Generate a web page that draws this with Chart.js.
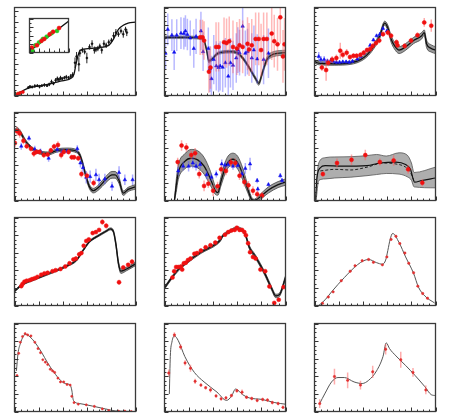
<!DOCTYPE html>
<html><head><meta charset="utf-8">
<script src="https://cdn.jsdelivr.net/npm/chart.js@4.4.1/dist/chart.umd.min.js"></script>
<style>
body{margin:0;background:#fff;width:449px;height:420px;position:relative;overflow:hidden}
canvas{position:absolute}
</style></head><body>
<script>
// ---------- Panel 1 (top-left) ----------
const p1CurveX = [0,11.4,16.8,27.4,38,47.3,49.2,50.8,52.7,54.5,62,69.9,77.9,81.9,85.9,89.9,93.9,100];
const p1CurveY = [0,8.3,10.1,12.6,16.2,20.2,24.5,35.4,46.2,51.6,53.4,54.5,57,64.3,75.1,79.8,82.3,83.4];
const p1X = [11.4,12.8,14.6,16.8,18.9,20.7,22.6,24.7,26.9,28.7,30.6,32.2,34,35.4,36.7,38,39.4,41.2,42.8,44.7,46.5,48.1,50,51.3,53.2,54,56.1,58,59.8,62,64.1,66,67.3,68.9,70.5,72.1,73.9,75.8,77.9,80.1,81.9,83.8,85.9,88,89.9,91.8,92.8];
const p1Y = [9,10.1,9.7,10.8,11.2,10.1,11.2,11.9,11.2,12.6,15.5,13.7,17.3,19.1,18.1,19.9,19.1,20.2,20.9,20.2,22,23.5,37.2,44.4,35.4,48,51.6,49.8,42.6,55.2,58.8,51.6,52.3,53.4,56,51.6,58.8,57,60.6,62.5,67.9,71.5,69.7,73.3,69.7,75.1,71.5];
const p1E = [1.5,1.5,1.5,2,1.5,2,1.5,2,1.5,2,2.5,2,2.5,2.5,2,2.5,2,2,2.5,2,2.5,3,6,5,8,4,3,3,6,3,4,4,3,3,3,4,4,3,3,3,4,4,3,3,4,3,4];
const p1RedX = [0.8,2.9,4.8,6.9], p1RedY = [1.1,2.2,2.9,4];
const p1GreenX = [0.3,2.1,4], p1GreenY = [0.4,1.4,2.2];
// inset
const insLineX = [0,100], insLineY = [4,92];
const insRedX = [6,19,30.3,37.9,51.5,60.6,75.8], insRedY = [14.4,21.2,33.9,39.8,53.4,61,72];
const insGreenX = [7.6,15.2,24.2,34.1,43.9,56.8,70.5], insGreenY = [5.9,21.2,29.7,39.8,46.6,56.8,63.6];

// ---------- Panel 2 ----------
const p2CurveX = [0,16.8,30.1,32.7,34.8,36.7,39.4,43.4,47.3,54,59.8,64.6,69.9,75.3,77.9,80.6,84.6,89.9,100];
const p2CurveY = [66.1,66.1,65.3,62.5,51.6,39,41.5,47.3,49.1,49.8,48.7,42.6,31.8,19.1,13.7,24.5,40.8,46.9,48.7];
const p2Up = [67.5,67.5,66.8,64,53.5,41,43,48.8,50.6,51.3,50.2,44.3,33.5,21,15.8,26.8,43.5,49.8,51.5];
const p2Lo = [64.7,64.7,63.8,61,49.7,37,40,45.8,47.6,48.3,47.2,40.9,30.1,17.2,11.6,22.2,38.1,44,45.9];
const p2BlueX = [0.8,2.7,6.1,8,10.1,13.6,16,17.3,18.9,21.3,24.2,26.1,30.1,31.9,36.2,37.5,38.8,40.7,42.8,44.7,46,48.1,50.3,52.7,54.5,56.6,59.3,60.6,62,64.6,66.8,68.6,72.1,73.9,76.6,81.9,85.9];
const p2BlueY = [48,75.1,68.6,49.1,68.6,70.8,70.4,73.3,69.3,65.3,53.4,67.1,73.3,49.8,53.4,30,19.1,40.8,33.6,31.8,33.6,32.1,37.2,22,37.2,34.3,42.6,51.6,48.7,78.7,48,49.8,42.6,51.6,41.5,40.8,48];
const p2BlueE = [18,18,18,20,18,18,18,18,18,20,22,20,22,22,24,26,26,28,28,28,28,28,28,30,28,28,28,26,26,22,26,26,28,28,28,28,28];
const p2RedX = [29.5,31.4,32.7,36.7,38,42.6,44.7,49.2,51.3,53.5,56.6,59.8,62,64.6,68.6,69.9,72.1,75.3,77.9,79.8,81.9,84.6,88.6,90.7,93.4,95.7,97.9,99.2];
const p2RedY = [66.1,66.1,62.5,27.1,31.8,55.2,55.2,60.6,59.6,61.7,55.2,53.4,57,55.2,58.8,52.3,57,64.3,64.3,51.6,64.3,64.3,70.4,61.7,58.1,88.8,44.4,58.1];
const p2RedE = [20,20,22,24,24,28,28,28,28,28,30,30,30,30,30,30,30,30,30,30,30,30,30,30,30,30,30,30];

// ---------- Panel 3 ----------
const p3CurveX = [0,2.1,6.1,16.8,30.1,38,43.4,48.7,54,58,60.6,63.3,66,69.9,75.3,81.9,88.6,90.7,92.6,96.5,100];
const p3CurveY = [39,37.2,36.5,36.1,37.2,40.8,46.2,55.2,67.9,82.3,76.9,64.3,57,51.6,55.2,62.5,67.9,71.5,58.8,53.4,51.6];
const p3Up = [41,39,38.3,37.8,39,42.8,48.5,57.8,70.8,84.5,80,68,61,55.5,59,66,71.5,74.5,63,57.5,55.5];
const p3Lo = [37,35.4,34.7,34.4,35.4,38.8,44,52.6,65,80,73.8,60.6,53,47.7,51.4,59,64.3,68.5,54.6,49.3,47.7];
const p3BlueX = [3.5,5.3,8,10.6,13.6,15.4,18.1,20.7,23.4,26.1,28.7,31.4,35.4,38,40.7,43.4,46,48.7,51.3,54,56.6,59.8];
const p3BlueY = [44.4,40.8,40.8,39,40.1,39,37.9,37.9,38.3,38.3,37.9,39,41.5,44.4,48,51.6,57,63.2,67.9,69.7,76.2,73.3];
const p3BlueE = [5,4,4,3,3,3,2,2,2,2,2,2,2,2,2,2,2,2,2,2,2,2];
const p3RedX = [6.1,9.6,11.4,14.6,18.1,21.3,23.4,26.6,29.3,32.2,34.8,38,40.7,43.4,46,48.1,50.8,53.5,56.6,60.6,63.3,67.8,68.6,74.5,79.8,85.1,90.7,96.5];
const p3RedY = [31.8,28.9,37.2,40.8,42.6,50.9,46.2,48.7,43.7,45.1,45.1,46.2,48.7,51.6,52.7,56.3,59.6,62.5,69.7,71.5,67.9,60.6,57,56.3,62.5,68.6,83,79.4];
const p3RedE = [4,12,4,4,4,9,4,4,3,3,3,3,3,3,3,3,3,3,3,3,3,3,3,3,3,3,5,7];

// ---------- Panel 4 ----------
const p4CurveX = [0,2.1,4.8,8.8,14.1,19.4,27.4,35.4,43.4,51.3,54,56.6,59.3,62,65.2,69.9,75.3,80.6,83.2,86.4,89.9,93.9,100];
const p4CurveY = [78.7,81.2,77.6,67.9,59.6,55.2,53.4,57,57.8,56,51.6,40.8,26.4,15.5,11.2,15.5,23.5,29.2,29.2,22.7,8.3,12.6,15.5];
const p4Up = [80.5,83,79.5,69.8,61.3,57,55.2,58.8,59.6,57.8,53.6,43,28.8,18,13.8,18.5,27,33,33,26.2,10.8,15,18];
const p4Lo = [76.9,79.4,75.7,66,57.9,53.4,51.6,55.2,56,54.2,49.6,38.6,24,13,8.6,12.5,20,25.4,25.4,19.2,5.8,10.2,13];
const p4RedX = [0.3,2.1,4.3,7.4,10.1,13.6,16,18.1,20.7,24.2,27.4,30.1,32.7,35.9,38.6,40.7,44.7,47.3,49.2,52.7,55.3,59.8,65.4];
const p4RedY = [65.3,78.7,76.2,67.9,61.7,58.8,53.4,55.2,55.2,51.6,52.3,57,61.4,63.2,51.6,55.2,55.2,49.1,49.1,48,30,28.2,19.9];
const p4RedE = [5,5,5,4,3,3,4,3,3,3,3,3,3,4,4,3,3,3,3,3,4,4,4];
const p4BlueX = [5.6,12,16.8,21.5,28.2,35.4,39.4,43.4,51.9,54.5,56.6,59.3,62.5,67.3,69.9,74.7,80.6,86.4,91.2,97.6];
const p4BlueY = [61.7,70.8,58.1,56,48,58.1,55.2,56,58.8,42.6,37.2,26.4,27.1,29.2,23.5,24.5,16.2,31.8,23.5,23.5];
const p4BlueE = [4,3,4,3,4,4,4,3,4,5,6,7,7,7,7,6,5,7,6,6];

// ---------- Panel 5 ----------
const p5CurveX = [8.2,9.6,11.4,16.8,22.1,27.4,32.7,38,42,44.1,46.5,51.3,56.6,60.6,64.6,68.6,72.1,74.7,77.9,85.9,93.9,100];
const p5CurveY = [0,15.5,31.8,44.4,48,46.2,39,24.5,11.2,9,20.9,40.8,46.9,42.6,30,13.7,1.1,0,2.9,11.9,18.1,20.9];
const p5Up = [0,22,40,53,58,56.5,49,33,16,12,26,47.5,53.8,50,37,18.5,3.5,1.5,5.5,15.5,21.5,24.5];
const p5Lo = [0,9,24,36,39,37,30,17,7,6,16,34.5,40,35.5,23.5,9.5,0,0,0.5,8.5,14.7,17.3];
const p5RedX = [10.9,14.1,18.1,22.1,25.3,28.7,32.7,36.2,40.2,43.9,46.8,50.8,54.8,58.5,62,66,69.4,73.1,76.6,80.6];
const p5RedY = [43.7,62.5,60.3,51.6,53.8,30,16.6,19.1,11.2,16.2,35.4,33.6,43.3,42.6,28.2,20.9,17.3,11.2,7.2,5.8];
const p5RedE = [5,6,5,5,6,5,6,5,6,5,5,5,5,5,5,5,5,5,4,4];
const p5BlueX = [11.4,15.4,19.9,23.4,26.1,29.5,34.8,38.8,42.8,47.3,50,52.7,56.6,60.6,64.1,66.8,70.7,76.6,77.1,85.9,95.7,97.1];
const p5BlueY = [33.6,39,39,42.6,39,40.8,29.2,26.4,30,41.5,40.1,40.8,39,39.7,30,36.5,41.5,22.7,13,18.1,28.2,22.7];
const p5BlueE = [5,5,6,6,5,5,5,4,4,5,4,4,4,4,4,6,7,3,3,2,3,3];

// ---------- Panel 6 ----------
const p6CurveX = [0.8,2.1,4.8,8.8,22.1,43.4,54,67.3,75.3,79.3,82.7,88.6,100];
const p6CurveY = [0,26.4,37.2,39.7,39,39.7,42.6,43.7,40.8,35.4,20.9,22.7,25.6];
const p6DashX = [4.8,16.8,30.1,43.4,56.6,67.3,75.3,79.3,82.7];
const p6DashY = [33.6,35.4,34.7,37.9,42.6,41.5,37.9,31.8,20.9];
const p6BandX = [1.3,3.5,8.8,16.8,30.1,43.4,51.3,59.3,69.9,76.6,80.1,82.3,100];
const p6Up = [19,42.6,48.7,49.5,49.8,51,52.3,50.5,54.2,51.6,42.6,31.8,37.9];
const p6Lo = [0,22.7,24.5,25.6,26.5,28.2,29.5,30.7,30,27,23,15.5,14.4];
const p6RedX = [6.9,18.6,30.6,42,54,65.4,77.4,89.1];
const p6RedY = [30,42.6,46.2,51.6,43.7,45.5,35.4,20.2];
const p6RedE = [3,5,6,6,4,6,5,4];

// ---------- Panel 7 ----------
const p7CurveX = [0,6.1,16.8,30.1,43.4,51.3,56.6,62,69.9,75.3,79.3,81.9,83.8,85.9,88,92.6,100];
const p7CurveY = [16.2,23.5,30,37.2,45.1,51.6,62.5,72.6,79.8,84.1,87,83.4,69.7,48,39,41.5,47.3];
const p7Up = [17.2,24.5,31,38.2,46.1,52.6,63.5,73.6,80.8,85.1,88.2,85,72,50.5,41.5,43.5,49.3];
const p7Lo = [15.2,22.5,29,36.2,44.1,50.6,61.5,71.6,78.8,83.1,85.8,81.8,67.4,45.5,36.5,39.5,45.3];
const p7RedX = [5.6,6.6,8.2,10.1,12.8,14.6,16.8,18.9,22.1,24.7,27.4,31.4,34,38,42,45.5,48.7,50.8,53.5,55.3,57.2,59.3,61.4,64.6,67.3,69.9,72.6,75.8,86.4,89.9,93.9,97.1];
const p7RedY = [22,24.5,27.1,28.2,28.9,30,31,32.5,35,36.5,37.2,39,40.1,41.5,44.4,48,52.3,53.4,58.1,59.6,67.9,73.3,75.1,82.3,83.4,85.9,94.9,90.6,26.4,43.3,46.2,49.8];
const p7RedE = [1,1,1,1,1,1,1,1,1,1,1,1,1,1,1,1,1,1,1,1,1,1,1,1,1,1,3,3,3,2,2,3];

// ---------- Panel 8 ----------
const p8CurveX = [0,6.1,11.4,16.8,30.1,43.4,46.5,47.9,54,59.3,64.1,67.3,69.9,75.3,83.2,88.6,92,95.2,100];
const p8CurveY = [19.9,31.8,40.8,47.3,60.6,70.8,75.1,78.7,84.1,87.7,85.9,78.7,66.8,55.2,35.4,19.1,10.8,12.6,31.8];
const p8Up = [21.4,33.3,42.3,48.8,62.1,72.3,76.6,80.2,85.6,89.2,87.4,80.4,68.8,57.2,37.4,21.1,12.8,14.6,33.8];
const p8Lo = [18.4,30.3,39.3,45.8,59.1,69.3,73.6,77.2,82.6,86.2,84.4,77,64.8,53.2,33.4,17.1,8.8,10.6,29.8];
const p8RedX = [6.6,8,9.6,11.4,13.6,14.6,16,17.6,19.4,21.5,24.7,26.9,30.1,34,38,42,45.5,50,52.7,55.3,58,59.8,62,64.1,66,67.3,69.1,70.7,73.1,75.3,79.3,83.2,86.7,90.7,94.4,98.4];
const p8RedY = [31.8,39,43.7,43.7,44.4,40.8,48,48.7,51.6,53.4,58.8,59.6,62.5,66.1,68.6,71.5,76.9,80.5,83.4,85.2,85.9,88.4,85.9,85.9,83.4,79.8,70.8,60.6,55.2,53.4,40.8,39,21.7,2.9,6.5,20.9];

// ---------- Panel 9 ----------
const p9CurveX = [3.5,8.8,14.1,24.7,35.4,40.7,44.7,51.3,56.1,58.8,60.6,62.5,64.6,69.9,75.3,81.9,85.9,91.2,99.2];
const p9CurveY = [0,6.5,15.5,31.8,46.2,50.9,52.3,48.7,46.9,51.6,62.5,75.1,81.9,71.5,55.2,36.5,20.9,10.8,2.9];
const p9RedX = [6.6,11.4,15.4,22.1,29.5,33.5,39.4,44.7,48.7,56.1,59.8,63.3,67.3,70.5,74.7,77.9,81.9,85.4,89.4,93.4];
const p9RedY = [2.5,9.7,15.5,28.2,39,45.1,50.9,52.3,49.1,46.2,55.2,75.1,78.7,70.4,59.6,48,37.2,22,13.7,8.3];

// ---------- Panel 10 ----------
const p10CurveX = [1.6,2.9,4.8,7.4,9.3,12.8,16.8,22.1,27.4,32.7,38,42,46,47.3,48.7,54,64.6,75.3,83.2,100];
const p10CurveY = [46.2,66.1,76.9,85.9,87.7,84.8,78.7,67.9,55.2,44.4,35.4,31.8,30,24.5,12.6,9,6.1,2.9,0.7,0];
const p10RedX = [2.1,3.5,4.8,6.6,8.8,10.9,13.6,16.8,19.4,21.5,23.4,25.5,27.4,29.5,31.4,33.2,35.9,38,40.7,43.4,46,47.3,49.2,52.7,59.3,66,72.6,77.9,85.9,91.2,96.5];
const p10RedY = [40.8,66.1,78.7,85.2,88.4,87,85.9,78.7,71.5,66.8,58.8,56,53.4,48,46.2,44.4,37.9,33.6,33.6,30.7,30,17.3,10.1,8.3,7.6,5.8,2.9,1.1,0.4,0.4,0];

// ---------- Panel 11 ----------
const p11CurveX = [4,4.8,6.1,8.2,11.4,16.8,24.7,32.7,43.4,51.3,55.3,58.8,64.6,69.9,80.6,91.2,100];
const p11CurveY = [19.9,62.5,78.7,85.9,80.5,62.5,44.4,33.6,22,12.6,17.3,25.6,19.1,15.5,13.7,10.1,8.3];
const p11RedX = [3.5,8.2,13.3,17,21.5,25.3,30.1,34,38,42.6,46.8,50.8,55.3,59.8,64.1,67.8,72.1,76.6,81.1,85.1,89.1,93.9,97.9];
const p11RedY = [43.7,87,73.3,55.2,49.1,34.3,30,27.1,24.5,17.7,14.4,15.5,18.1,23.5,22,16.2,14.8,12.6,13.7,13,10.1,9,4.7];
const p11RedE = [4,3,3,3,4,3,2,2,3,2,2,2,2,2,3,2,2,2,2,2,2,2,2];

// ---------- Panel 12 ----------
const p12CurveX = [4,8.8,14.1,19.4,24.7,32.7,39.4,44.7,51.3,56.6,59.3,62,67.3,75.3,83.2,91.2,96.5,100];
const p12CurveY = [8.3,20.9,33.6,38.6,38.6,33.6,31.8,35.4,46.2,62.5,78,71.5,63.2,52.3,40.8,28.2,19.1,18.1];
const p12RedX = [4.3,16.5,27.4,38,48.1,58.8,71.3,81.4,92];
const p12RedY = [9,39.7,35.4,30,45.1,70.8,58.8,44.4,24.5];
const p12RedE = [5,9,9,5,7,6,9,5,5];

// ---------- helpers ----------
const pts = (xs, ys) => xs.map((x, i) => ({x, y: ys[i]}));

const framePlugin = {
  id: 'frame',
  beforeDraw(chart, args, o) {
    if (o.bg) {
      const a = chart.chartArea, c = chart.ctx;
      c.save(); c.fillStyle = o.bg; c.fillRect(a.left, a.top, a.width, a.height); c.restore();
    }
  },
  afterDraw(chart, args, o) {
    const c = chart.ctx, a = chart.chartArea, xs = chart.scales.x, ys = chart.scales.y;
    c.save();
    c.strokeStyle = '#333'; c.lineWidth = 1;
    c.beginPath();
    const xMaj = o.xMaj || 20, xSub = o.xSub || 4, yMaj = o.yMaj || 20, ySub = o.ySub || 4;
    for (let v = 0; v <= 100.001; v += xMaj / xSub) {
      const isMaj = Math.abs(v / xMaj - Math.round(v / xMaj)) < 1e-6;
      const px = Math.round(xs.getPixelForValue(v)) + 0.5;
      const len = isMaj ? 4 : 2;
      c.moveTo(px, a.bottom); c.lineTo(px, a.bottom - len);
    }
    for (let v = 0; v <= 100.001; v += yMaj / ySub) {
      const isMaj = Math.abs(v / yMaj - Math.round(v / yMaj)) < 1e-6;
      const py = Math.round(ys.getPixelForValue(v)) + 0.5;
      const len = isMaj ? 4 : 2;
      c.moveTo(a.left, py); c.lineTo(a.left + len, py);
    }
    c.stroke();
    c.lineWidth = 1.3; c.strokeStyle = '#3a3a3a';
    c.strokeRect(a.left, a.top, a.width, a.height);
    c.restore();
  }
};

const errPlugin = {
  id: 'errs',
  beforeDatasetDraw(chart, args) {
    const ds = chart.data.datasets[args.index];
    if (!ds.errs) return;
    const c = chart.ctx, a = chart.chartArea, xs = chart.scales.x, ys = chart.scales.y;
    c.save();
    c.beginPath(); c.rect(a.left, a.top, a.width, a.height); c.clip();
    c.strokeStyle = ds.errColor; c.lineWidth = ds.errWidth || 1;
    c.beginPath();
    ds.data.forEach((p, i) => {
      const e = Array.isArray(ds.errs) ? ds.errs[i] : ds.errs;
      if (!e) return;
      const px = xs.getPixelForValue(p.x);
      c.moveTo(px, ys.getPixelForValue(p.y - e));
      c.lineTo(px, ys.getPixelForValue(p.y + e));
    });
    c.stroke();
    c.restore();
  }
};

function line(xs, ys, color, width, dash, order) {
  return {type: 'line', data: pts(xs, ys), borderColor: color, borderWidth: width, borderDash: dash || [],
    pointRadius: 0, fill: false, cubicInterpolationMode: 'monotone', order: order ?? 1};
}
function band(xs, up, lo, fillColor, edge) {
  return [
    {type: 'line', data: pts(xs, up), borderColor: edge, borderWidth: 0.8, pointRadius: 0, fill: false, cubicInterpolationMode: 'monotone', order: 3},
    {type: 'line', data: pts(xs, lo), borderColor: edge, borderWidth: 0.8, pointRadius: 0, fill: '-1', backgroundColor: fillColor, cubicInterpolationMode: 'monotone', order: 3}
  ];
}
function points(xs, ys, errs, color, style, radius, errColor, errWidth, order) {
  return {type: 'scatter', data: pts(xs, ys), showLine: false, pointStyle: style || 'circle', pointRadius: radius,
    pointBackgroundColor: color, pointBorderColor: color, pointBorderWidth: 0.5,
    errs: errs, errColor: errColor, errWidth: errWidth || 1, order: order ?? 0};
}

function panel(left, top, w, h, datasets, frameOpts) {
  const pad = 2;
  const cv = document.createElement('canvas');
  cv.width = w + 2 * pad; cv.height = h + 2 * pad;
  cv.style.left = (left - pad) + 'px'; cv.style.top = (top - pad) + 'px';
  cv.style.width = (w + 2 * pad) + 'px'; cv.style.height = (h + 2 * pad) + 'px';
  document.body.appendChild(cv);
  new Chart(cv, {
    type: 'scatter',
    data: {datasets},
    options: {
      responsive: false, animation: false, devicePixelRatio: 1,
      layout: {padding: pad},
      plugins: {legend: {display: false}, tooltip: {enabled: false}, frame: frameOpts || {}},
      scales: {
        x: {type: 'linear', min: 0, max: 100, display: false},
        y: {type: 'linear', min: 0, max: 100, display: false}
      }
    },
    plugins: [framePlugin, errPlugin]
  });
}

const COLS = [12, 162, 312], ROWS = [5, 110, 215, 321], W = 126, H = 93;
const RED = '#f01010', BLUE = '#1010ee';
const REDERR = 'rgba(255,90,90,0.5)', BLUEERR = 'rgba(90,90,255,0.5)';
const REDERR2 = 'rgba(255,80,80,0.4)', BLUEERR2 = 'rgba(80,80,255,0.4)';
const BAND = 'rgba(120,120,120,0.75)', BAND6 = 'rgba(140,140,140,0.7)', EDGE = '#444';

// Panel 1
panel(COLS[0], ROWS[0], W, H, [
  points(p1RedX, p1RedY, 0, RED, 'circle', 1.6, null, 1, 0),
  points(p1GreenX, p1GreenY, 0, '#22cc22', 'circle', 1.6, null, 1, 0),
  points(p1X, p1Y, p1E, '#111', 'circle', 1, '#222', 1, 0),
  line(p1CurveX, p1CurveY, '#111', 1.3, null, 1)
], {xMaj: 20, xSub: 4, yMaj: 12, ySub: 2});
// inset
panel(27, 16, 44, 39, [
  points(insRedX, insRedY, 0, RED, 'circle', 2, null, 1, 0),
  points(insGreenX, insGreenY, 0, '#22cc22', 'circle', 2, null, 1, 0),
  line(insLineX, insLineY, '#111', 1.3, null, 1)
], {bg: '#fff', xMaj: 25, xSub: 2, yMaj: 25, ySub: 2});

// Panel 2
panel(COLS[1], ROWS[0], W, H, [
  points(p2RedX, p2RedY, p2RedE, RED, 'circle', 2, REDERR2, 1.5, 0),
  points(p2BlueX, p2BlueY, p2BlueE, BLUE, 'triangle', 2, BLUEERR2, 1.5, 0),
  line(p2CurveX, p2CurveY, '#222', 1.3, null, 1),
  ...band(p2CurveX, p2Up, p2Lo, BAND, '#666')
]);
// Panel 3
panel(COLS[2], ROWS[0], W, H, [
  points(p3RedX, p3RedY, p3RedE, RED, 'circle', 2, REDERR, 1.5, 0),
  points(p3BlueX, p3BlueY, p3BlueE, BLUE, 'triangle', 2, BLUEERR, 1.5, 0),
  line(p3CurveX, p3CurveY, '#111', 1.3, null, 1),
  ...band(p3CurveX, p3Up, p3Lo, BAND, EDGE)
]);
// Panel 4
panel(COLS[0], ROWS[1], W, H, [
  points(p4RedX, p4RedY, p4RedE, RED, 'circle', 2, REDERR, 1.5, 0),
  points(p4BlueX, p4BlueY, p4BlueE, BLUE, 'triangle', 2, BLUEERR, 1.5, 0),
  line(p4CurveX, p4CurveY, '#111', 1.3, null, 1),
  ...band(p4CurveX, p4Up, p4Lo, BAND, EDGE)
]);
// Panel 5
panel(COLS[1], ROWS[1], W, H, [
  points(p5RedX, p5RedY, p5RedE, RED, 'circle', 2, REDERR, 1.5, 0),
  points(p5BlueX, p5BlueY, p5BlueE, BLUE, 'triangle', 2, BLUEERR, 1.5, 0),
  line(p5CurveX, p5CurveY, '#111', 1.3, null, 1),
  ...band(p5CurveX, p5Up, p5Lo, BAND, EDGE)
]);
// Panel 6
panel(COLS[2], ROWS[1], W, H, [
  points(p6RedX, p6RedY, p6RedE, RED, 'circle', 2, REDERR, 1.5, 0),
  line(p6CurveX, p6CurveY, '#111', 1.2, null, 1),
  line(p6DashX, p6DashY, '#222', 1, [3, 2], 1),
  ...band(p6BandX, p6Up, p6Lo, BAND6, '#555')
]);
// Panel 7
panel(COLS[0], ROWS[2], W, H, [
  points(p7RedX, p7RedY, p7RedE, RED, 'circle', 2, REDERR, 1.5, 0),
  line(p7CurveX, p7CurveY, '#111', 1.3, null, 1),
  ...band(p7CurveX, p7Up, p7Lo, BAND, EDGE)
]);
// Panel 8
panel(COLS[1], ROWS[2], W, H, [
  points(p8RedX, p8RedY, 0, RED, 'circle', 2, REDERR, 1.5, 0),
  line(p8CurveX, p8CurveY, '#111', 1.3, null, 1),
  ...band(p8CurveX, p8Up, p8Lo, BAND, EDGE)
]);
// Panel 9
panel(COLS[2], ROWS[2], W, H, [
  points(p9RedX, p9RedY, 1, '#e03030', 'circle', 1.2, REDERR, 1, 0),
  line(p9CurveX, p9CurveY, '#555', 1, null, 1)
]);
// Panel 10
panel(COLS[0], ROWS[3], W, H, [
  points(p10RedX, p10RedY, 1, '#e03030', 'circle', 1.1, REDERR, 1, 0),
  line(p10CurveX, p10CurveY, '#555', 1, null, 1)
]);
// Panel 11
panel(COLS[1], ROWS[3], W, H, [
  points(p11RedX, p11RedY, p11RedE, '#e03030', 'circle', 1.2, REDERR, 1.5, 0),
  line(p11CurveX, p11CurveY, '#555', 1, null, 1)
]);
// Panel 12
panel(COLS[2], ROWS[3], W, H, [
  points(p12RedX, p12RedY, p12RedE, '#e03030', 'circle', 1.2, REDERR, 1.5, 0),
  line(p12CurveX, p12CurveY, '#555', 1, null, 1)
]);
</script>
</body></html>
